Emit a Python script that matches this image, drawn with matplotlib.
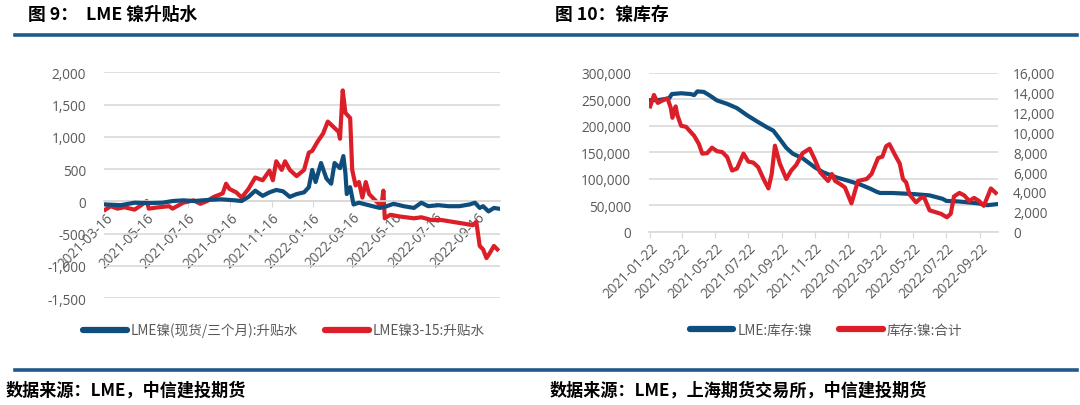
import numpy as np
import pandas as pd
import matplotlib
matplotlib.use("Agg")
import matplotlib.pyplot as plt
import matplotlib.dates as mdates
from matplotlib.lines import Line2D
from matplotlib.ticker import FuncFormatter, MultipleLocator

plt.rcParams['font.family'] = ['Noto Sans CJK SC', 'DejaVu Sans']
plt.rcParams['axes.unicode_minus'] = False

BLUE = '#0E4D7C'
RED = '#DC1E29'
GREY = '#595959'
GRID = '#D9D9D9'
TICK_FONT = 'Open Sans'

# ---- 图9: LME 镍升贴水 ----
spread_dates = ['2021-03-16', '2021-04-08', '2021-04-28', '2021-05-19', '2021-06-08', '2021-06-23',
                '2021-07-09', '2021-07-24', '2021-08-13', '2021-09-02', '2021-09-23', '2021-10-03',
                '2021-10-13', '2021-10-23', '2021-11-03', '2021-11-13', '2021-11-23', '2021-12-03',
                '2021-12-13', '2021-12-23', '2022-01-03', '2022-01-10', '2022-01-15', '2022-01-20',
                '2022-01-28', '2022-02-05', '2022-02-12', '2022-02-17', '2022-02-25', '2022-03-02',
                '2022-03-05', '2022-03-07', '2022-03-12', '2022-03-17', '2022-03-25', '2022-04-04',
                '2022-04-14', '2022-04-25', '2022-05-05', '2022-05-15', '2022-05-30', '2022-06-14',
                '2022-06-25', '2022-07-05', '2022-07-20', '2022-08-04', '2022-08-20', '2022-09-04',
                '2022-09-12', '2022-09-19', '2022-09-24', '2022-10-02', '2022-10-10', '2022-10-17']
spread_cash_3m = [-48, -59, -21, -27, -21, 5,
                  16, 5, 21, 32, 16, 5,
                  70, 166, 86, 140, 177, 156,
                  70, 113, 140, 220, 488, 300,
                  595, 354, 274, 595, 515, 703,
                  435, 113, 220, -48, -21, -48,
                  -75, -102, -75, -38, -75, -102,
                  -21, -75, -59, -75, -75, -48,
                  -21, -102, -75, -156, -102, -113]

spread3_15_dates = ['2021-03-16', '2021-03-24', '2021-04-03', '2021-04-13', '2021-04-28', '2021-05-08',
                    '2021-05-16', '2021-05-19', '2021-06-03', '2021-06-18', '2021-06-23', '2021-07-09',
                    '2021-07-24', '2021-08-03', '2021-08-13', '2021-08-23', '2021-09-05', '2021-09-10',
                    '2021-09-15', '2021-09-25', '2021-10-03', '2021-10-13', '2021-10-23', '2021-11-03',
                    '2021-11-13', '2021-11-18', '2021-11-23', '2021-12-01', '2021-12-06', '2021-12-13',
                    '2021-12-23', '2022-01-03', '2022-01-10', '2022-01-15', '2022-01-23', '2022-01-31',
                    '2022-02-07', '2022-02-15', '2022-02-23', '2022-02-25', '2022-03-01', '2022-03-05',
                    '2022-03-12', '2022-03-15', '2022-03-20', '2022-03-25', '2022-03-30', '2022-04-04',
                    '2022-04-09', '2022-04-19', '2022-04-27', '2022-04-30', '2022-05-02', '2022-05-10',
                    '2022-05-25', '2022-06-14', '2022-06-25', '2022-07-10', '2022-07-25', '2022-08-09',
                    '2022-08-25', '2022-09-09', '2022-09-14', '2022-09-19', '2022-09-24', '2022-09-29',
                    '2022-10-04', '2022-10-10', '2022-10-15']
spread3_15 = [-129, -75, -113, -91, -129, -59,
              5, -113, -91, -75, -113, -21,
              16, -38, 5, 70, 123, 274,
              193, 140, 59, 193, 370, 327,
              477, 327, 622, 488, 622, 488,
              392, 488, 756, 783, 928, 1051,
              1239, 1159, 1078, 971, 1722, 1373,
              1293, 488, 247, 300, 59, 300,
              113, 5, -75, 166, -263, -209,
              -236, -263, -247, -290, -290, -316,
              -343, -370, -316, -692, -745, -880,
              -800, -692, -745]

left_ticks = pd.date_range('2021-03-16', periods=10, freq=pd.DateOffset(months=2))

# ---- 图10: 镍库存 ----
lme_dates = ['2021-01-22', '2021-02-05', '2021-02-26', '2021-03-03', '2021-03-20', '2021-04-07',
             '2021-04-13', '2021-04-19', '2021-05-01', '2021-05-13', '2021-05-25', '2021-06-13',
             '2021-07-01', '2021-07-19', '2021-08-06', '2021-08-25', '2021-09-06', '2021-09-18',
             '2021-09-30', '2021-10-12', '2021-10-30', '2021-11-22', '2021-12-07', '2021-12-31',
             '2022-01-22', '2022-02-12', '2022-03-04', '2022-03-16', '2022-03-22', '2022-04-14',
             '2022-05-22', '2022-06-21', '2022-07-15', '2022-07-22', '2022-08-14', '2022-09-18',
             '2022-10-05', '2022-10-24']
lme_stock = [248000, 248000, 251500, 259500, 261000, 259500,
             257500, 264500, 263500, 256000, 247500, 241000,
             233000, 220000, 208500, 197000, 190500, 174500,
             158000, 147000, 138500, 121000, 112000, 102500,
             96000, 89500, 81000, 75000, 73000, 73000,
             71000, 68500, 62000, 58000, 57000, 53500,
             50000, 52000]

shfe_dates = ['2021-01-22', '2021-01-29', '2021-02-05', '2021-02-14', '2021-02-23', '2021-03-01',
              '2021-03-04', '2021-03-10', '2021-03-13', '2021-03-20', '2021-03-29', '2021-04-13',
              '2021-04-22', '2021-04-28', '2021-05-07', '2021-05-16', '2021-05-25', '2021-06-04',
              '2021-06-13', '2021-06-22', '2021-07-01', '2021-07-13', '2021-07-22', '2021-07-31',
              '2021-08-09', '2021-08-19', '2021-08-28', '2021-09-03', '2021-09-09', '2021-09-18',
              '2021-09-30', '2021-10-09', '2021-10-18', '2021-10-30', '2021-11-12', '2021-11-22',
              '2021-12-01', '2021-12-10', '2021-12-16', '2021-12-23', '2021-12-29', '2022-01-07',
              '2022-01-16', '2022-01-28', '2022-02-09', '2022-02-25', '2022-03-06', '2022-03-18',
              '2022-03-26', '2022-04-02', '2022-04-08', '2022-04-18', '2022-04-27', '2022-05-03',
              '2022-05-09', '2022-05-15', '2022-05-27', '2022-06-05', '2022-06-11', '2022-06-21',
              '2022-06-30', '2022-07-12', '2022-07-23', '2022-07-30', '2022-08-05', '2022-08-15',
              '2022-08-24', '2022-09-02', '2022-09-11', '2022-09-20', '2022-09-29', '2022-10-12',
              '2022-10-21']
shfe_stock = [12600, 13750, 12950, 13200, 13400, 12450,
              11450, 12600, 11750, 10650, 10550, 9650,
              8800, 7850, 7900, 8450, 8100, 8000,
              7500, 6150, 6350, 7850, 7050, 6950,
              6500, 5300, 4350, 5800, 8650, 6850,
              5300, 6150, 6700, 7900, 8350, 7200,
              6000, 5450, 5100, 5800, 5100, 4800,
              4450, 2850, 5100, 5300, 5800, 7400,
              7550, 8600, 8800, 7750, 6850, 5300,
              4950, 3750, 2950, 3400, 3450, 2150,
              2000, 1800, 1450, 1800, 3550, 3900,
              3650, 3100, 3400, 3100, 2600, 4350,
              3900]

right_ticks = pd.date_range('2021-01-22', periods=11, freq=pd.DateOffset(months=2))

comma = FuncFormatter(lambda v, p: f'{v:,.0f}')


def style_axis(ax, ypad):
    for s in ['top', 'right', 'left']:
        ax.spines[s].set_visible(False)
    ax.spines['bottom'].set_color(GRID)
    ax.spines['bottom'].set_linewidth(1.2)
    ax.grid(axis='y', color=GRID, linewidth=1.2)
    ax.set_axisbelow(True)
    ax.tick_params(axis='y', length=0, labelcolor=GREY, pad=ypad)
    ax.tick_params(axis='x', length=4, color=GRID, labelcolor=GREY, pad=2)
    ax.xaxis.set_major_formatter(mdates.DateFormatter('%Y-%m-%d'))
    for lab in ax.get_xticklabels():
        lab.set_rotation(45)
        lab.set_ha('right')
        lab.set_rotation_mode('anchor')
    for lab in ax.get_xticklabels() + ax.get_yticklabels():
        lab.set_fontfamily(TICK_FONT)
        lab.set_fontsize(9.8)


fig = plt.figure(figsize=(10.8, 4.06), dpi=100)

# left chart
ax1 = fig.add_axes([0.0963, 0.2635, 0.3667, 0.5555])
ax1.plot(pd.to_datetime(spread_dates), spread_cash_3m, color=BLUE, lw=3, solid_joinstyle='round',
         label='LME镍(现货/三个月):升贴水', zorder=3)
ax1.plot(pd.to_datetime(spread3_15_dates), spread3_15, color=RED, lw=3, solid_joinstyle='round',
         label='LME镍3-15:升贴水', zorder=2)
ax1.set_ylim(-1500, 2000)
ax1.yaxis.set_major_locator(MultipleLocator(500))
ax1.yaxis.set_major_formatter(comma)
ax1.set_xlim(pd.Timestamp('2021-03-14'), pd.Timestamp('2022-10-19'))
ax1.set_xticks(left_ticks)
ax1.spines['bottom'].set_position(('data', 0))
style_axis(ax1, 13)

# right chart
ax2 = fig.add_axes([0.601, 0.4268, 0.323, 0.392])
ax3 = ax2.twinx()
l1, = ax2.plot(pd.to_datetime(lme_dates), lme_stock, color=BLUE, lw=3, solid_joinstyle='round',
               label='LME:库存:镍')
l2, = ax3.plot(pd.to_datetime(shfe_dates), shfe_stock, color=RED, lw=3, solid_joinstyle='round',
               label='库存:镍:合计')
ax2.set_ylim(0, 300000)
ax2.yaxis.set_major_locator(MultipleLocator(50000))
ax2.yaxis.set_major_formatter(comma)
ax3.set_ylim(0, 16000)
ax3.yaxis.set_major_locator(MultipleLocator(2000))
ax3.yaxis.set_major_formatter(comma)
ax2.set_xlim(pd.Timestamp('2021-01-20'), pd.Timestamp('2022-10-25'))
ax2.set_xticks(right_ticks)
style_axis(ax2, 13)
for s in ['top', 'right', 'left', 'bottom']:
    ax3.spines[s].set_visible(False)
ax3.tick_params(axis='y', length=0, labelcolor=GREY, pad=11)
for lab in ax3.get_yticklabels():
    lab.set_fontfamily(TICK_FONT)
    lab.set_fontsize(9.8)

# legends
leg_kw = dict(frameon=False, ncol=2, fontsize=9.8, handlelength=3.2, columnspacing=2.0,
              handletextpad=0.3, labelcolor=GREY)
h1, lb1 = ax1.get_legend_handles_labels()
fig.legend(h1, lb1, loc='center', bbox_to_anchor=(0.263, 0.185), **leg_kw)
fig.legend([l1, l2], [l1.get_label(), l2.get_label()], loc='center',
           bbox_to_anchor=(0.765, 0.185), **leg_kw)
for lg in fig.legends:
    for ln in lg.get_lines():
        ln.set_linewidth(4.5)
        ln.set_solid_capstyle('round')

# titles, rules and sources
fig.text(0.026, 0.963, '图 9：  LME 镍升贴水', fontsize=12.8, fontweight='bold', va='center')
fig.text(0.514, 0.963, '图 10：镍库存', fontsize=12.8, fontweight='bold', va='center')
fig.add_artist(Line2D([0.014, 0.997], [0.911, 0.911], color='#1F5A8A', lw=2.6))
fig.add_artist(Line2D([0.014, 0.997], [0.0862, 0.0862], color='#1F5A8A', lw=2.6))
fig.text(0.005, 0.039, '数据来源：LME，中信建投期货', fontsize=12.3, fontweight='bold', va='center')
fig.text(0.509, 0.039, '数据来源：LME，上海期货交易所，中信建投期货', fontsize=12.3,
         fontweight='bold', va='center')

fig.savefig('out.png', dpi=100)
